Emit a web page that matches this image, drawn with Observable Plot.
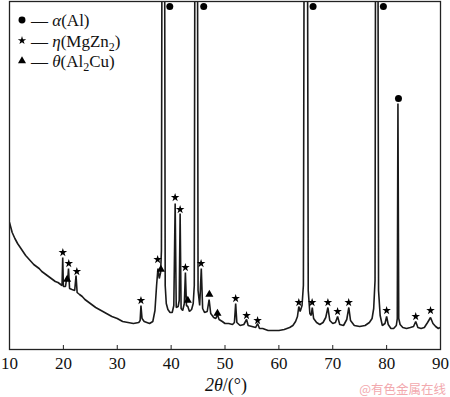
<!DOCTYPE html>
<html>
<head>
<meta charset="utf-8">
<script src="https://cdn.jsdelivr.net/npm/d3@7"></script>
<script src="https://cdn.jsdelivr.net/npm/@observablehq/plot@0.6"></script>
<style>
  html, body { margin: 0; padding: 0; background: #fff; }
  #chart { width: 450px; height: 397px; }
</style>
</head>
<body>
<div id="chart"></div>
<script>
// XRD pattern: diffraction angle 2θ (°) and intensity (arbitrary units)
const twoTheta = [10.0,10.5,11.0,11.5,12.0,12.5,13.0,13.5,14.0,14.5,15.0,15.5,16.0,16.5,17.0,17.5,18.0,18.5,19.0,19.5,19.75,19.88,20.0,20.4,20.65,20.8,20.95,21.15,21.6,22.1,22.35,22.55,23.0,23.5,24.0,25.0,26.0,27.0,28.0,29.0,30.0,31.0,32.0,33.0,34.0,34.25,34.4,34.6,35.0,36.0,36.6,37.0,37.3,37.55,37.8,38.05,38.2,38.55,38.9,39.1,39.4,39.8,40.2,40.5,40.75,40.95,41.3,41.5,41.67,41.85,42.15,42.45,42.65,42.85,43.1,43.4,43.8,44.1,44.3,44.65,45.0,45.3,45.6,45.85,46.2,46.7,47.05,47.35,47.9,48.3,48.6,48.9,49.5,50.0,50.7,51.4,51.75,51.98,52.2,52.8,53.5,54.0,54.3,55.0,55.7,56.05,56.4,57.0,58.0,59.0,60.0,61.0,62.0,62.6,63.1,63.45,63.7,63.95,64.3,64.55,65.0,65.45,65.75,66.0,66.2,66.45,67.0,67.6,68.2,68.7,69.1,69.45,70.0,70.5,70.9,71.3,72.0,72.6,72.98,73.3,74.0,75.0,76.0,76.8,77.3,77.6,77.85,78.15,78.5,78.8,79.2,79.7,80.0,80.3,80.8,81.3,81.8,81.98,82.1,82.25,82.5,83.0,83.7,84.4,85.0,85.4,85.8,86.4,87.0,87.6,88.15,88.6,89.1,89.6,90.0];
const intensity = [127,117,111,106,102,98,94,91,88,85,83,81,78,76,74,72,70,68,67,65,64,92,63,63,73,69,81,61,60,59,74,57,55,53,50,46,42,39,36,33,31,28,27,26,27,29,44,31,28,26,28,39,64,81,71,77,99,1200,64,46,40,37,37,44,146,42,43,49,136,41,39,46,77,44,43,38,40,46,64,1200,59,44,81,41,37,38,50,36,32,31,35,30,28,26,26,25,27,46,27,24,25,30,24,23,22,26,21,21,19,19,19,20,22,24,28,33,43,38,44,64,1200,59,36,34,42,31,27,25,27,32,42,29,26,27,33,25,24,30,42,29,24,23,24,27,31,41,69,1200,59,34,24,26,33,25,21,21,24,31,246,31,25,22,21,22,23,28,22,21,22,27,32,26,23,21,22];

// Phase markers (position of the symbol above each peak)
const alAngles = [39.75, 46.05, 66.35, 79.4, 82.2];
const alHeights = [343, 343, 343, 343, 251];
const etaAngles = [19.9, 21.0, 22.5, 34.4, 37.5, 40.74, 41.67, 42.65, 45.56, 51.98, 54.0, 56.05, 63.7, 66.17, 69.1, 70.9, 72.96, 80.0, 85.4, 88.15];
const etaHeights = [97, 86, 78, 49, 90, 152, 140, 82, 86, 51, 34, 29, 47, 47, 47, 38, 47, 39, 33, 39];
const thetaAngles = [20.7, 38.1, 43.1, 47.1, 48.6];
const thetaHeights = [70, 80, 49, 55, 36];

const xTicks = [10, 20, 30, 40, 50, 60, 70, 80, 90];

const spectrum = twoTheta.map((t, i) => ({t, v: intensity[i]}));
const al = alAngles.map((t, i) => ({t, v: alHeights[i]}));
const eta = etaAngles.map((t, i) => ({t, v: etaHeights[i]}));
const theta = thetaAngles.map((t, i) => ({t, v: thetaHeights[i]}));

const serif = "'Liberation Serif', 'Times New Roman', serif";

const svg = Plot.plot({
  width: 450,
  height: 397,
  marginTop: 1,
  marginLeft: 9,
  marginRight: 10,
  marginBottom: 48,
  style: {fontFamily: serif, fontSize: "17px", background: "#fff", color: "#111", overflow: "visible"},
  x: {domain: [10, 90]},
  y: {domain: [0, 348], axis: null},
  marks: [
    Plot.line(spectrum, {x: "t", y: "v", stroke: "#1a1a1a", strokeWidth: 1.6, strokeLinejoin: "miter", clip: true}),
    Plot.dot(al, {x: "t", y: "v", symbol: "circle", r: 3.5, fill: "#000", stroke: "none"}),
    Plot.dot(eta, {x: "t", y: "v", symbol: "star", r: 2.7, fill: "#000", stroke: "none"}),
    Plot.dot(theta, {x: "t", y: "v", symbol: "triangle", r: 3.0, fill: "#000", stroke: "none"}),
    Plot.frame({stroke: "#222", strokeWidth: 1.3}),
    Plot.axisX({ticks: xTicks, tickSize: -4, tickFormat: () => "", label: null, stroke: "#222"}),
    Plot.axisX({ticks: xTicks, tickSize: 0, tickPadding: 7, label: null, fontSize: 17, fill: "#111"})
  ]
});

const root = d3.select(svg);

// Legend
const legendRows = [
  {sym: d3.symbolCircle, size: 38, greek: "α", parts: [["(Al)", false]]},
  {sym: d3.symbolStar, size: 22, greek: "η", parts: [["(MgZn", false], ["2", true], [")", false]]},
  {sym: d3.symbolTriangle, size: 28, greek: "θ", parts: [["(Al", false], ["2", true], ["Cu)", false]]}
];
const lg = root.append("g")
  .attr("font-family", serif).attr("font-size", 17).attr("fill", "#111")
  .attr("text-anchor", "start").style("text-anchor", "start");
legendRows.forEach((row, i) => {
  const yb = 26 + i * 20.5;
  lg.append("path")
    .attr("d", d3.symbol(row.sym, row.size)())
    .attr("transform", `translate(22,${yb - 6})`)
    .attr("fill", "#000");
  const t = lg.append("text").attr("x", 31).attr("y", yb).attr("text-anchor", "start");
  t.append("tspan").text("— ");
  t.append("tspan").attr("font-style", "italic").text(row.greek);
  let shifted = false;
  row.parts.forEach(([s, sub]) => {
    const ts = t.append("tspan").text(s);
    if (sub) { ts.attr("font-size", 12).attr("dy", 4); shifted = true; }
    else if (shifted) { ts.attr("dy", -4); shifted = false; }
  });
});

// x-axis title
const xl = root.append("text")
  .attr("x", 226).attr("y", 391)
  .attr("text-anchor", "middle")
  .attr("font-family", serif).attr("font-size", 18).attr("fill", "#111");
xl.append("tspan").attr("font-style", "italic").text("2θ");
xl.append("tspan").text("/(°)");

// watermark
root.append("text")
  .attr("x", 446).attr("y", 394)
  .attr("text-anchor", "end")
  .attr("font-family", "'Noto Sans CJK SC', sans-serif")
  .attr("font-size", 12.5)
  .attr("fill", "#f2a9ae")
  .text("@有色金属在线");

document.getElementById("chart").appendChild(svg);
</script>
</body>
</html>
